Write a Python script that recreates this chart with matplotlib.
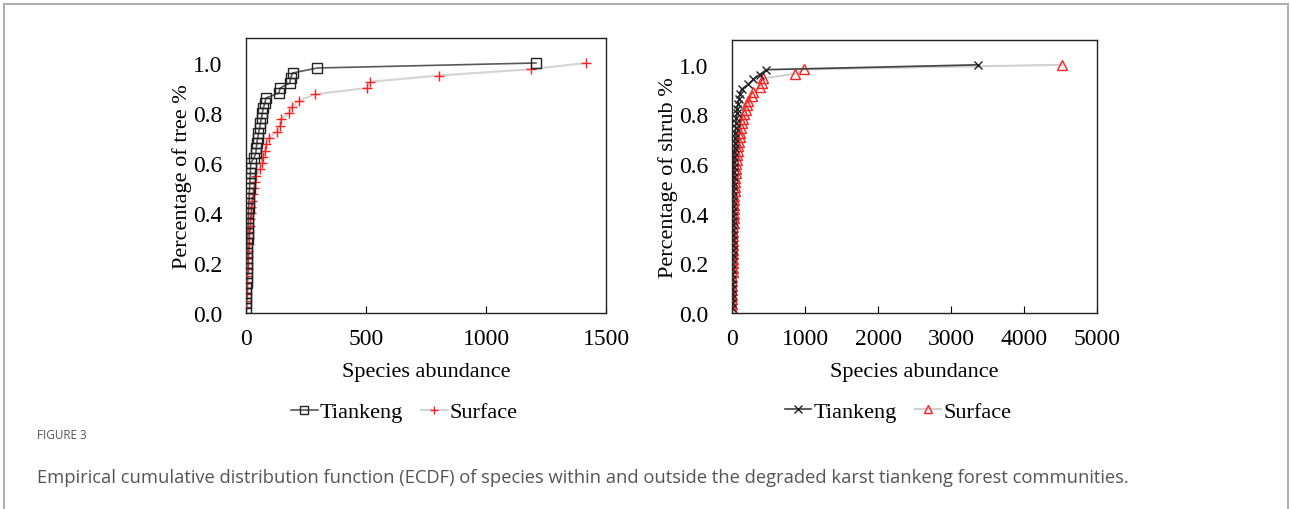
import numpy as np
import matplotlib
matplotlib.use("Agg")
import matplotlib.pyplot as plt
from matplotlib.patches import Rectangle

# tree abundance, sorted (ECDF points)
tree_tiankeng = [1, 1, 2, 2, 2, 3, 3, 3, 4, 4, 5, 5, 6, 6, 7, 8, 8, 9, 10, 10,
                 11, 12, 13, 14, 15, 16, 17, 18, 19, 20, 33, 41, 43, 45, 49, 52,
                 57, 60, 65, 68, 72, 79, 83, 137, 142, 183, 186, 194, 297, 1208]
tree_surface = [1, 2, 3, 4, 5, 6, 7, 8, 9, 10, 11, 12, 13, 15, 17, 19, 21, 24,
                28, 33, 37, 42, 58, 65, 69, 79, 83, 97, 128, 142, 144, 181, 190,
                222, 287, 503, 517, 805, 1186, 1417]

# shrub abundance, sorted (ECDF points)
shrub_tiankeng = [1, 2, 2, 3, 3, 4, 4, 5, 5, 6, 6, 7, 8, 8, 9, 10, 10, 11, 12,
                  13, 14, 15, 16, 17, 18, 19, 20, 22, 24, 26, 28, 30, 32, 35, 38,
                  41, 45, 49, 54, 60, 66, 73, 82, 95, 110, 132, 225, 290, 380,
                  470, 3375]
shrub_surface = [1, 2, 2, 3, 4, 5, 5, 6, 7, 8, 9, 10, 11, 12, 14, 15, 16, 17,
                 19, 21, 23, 25, 27, 29, 31, 33, 35, 38, 41, 45, 50, 55, 58, 62,
                 66, 76, 86, 96, 106, 116, 128, 140, 155, 170, 185, 200, 224,
                 268, 292, 385, 405, 420, 865, 990, 4525]


def ecdf(vals):
    v = np.sort(np.array(vals, dtype=float))
    return v, np.arange(1, len(v) + 1) / len(v)


plt.rcParams['font.family'] = ['Liberation Serif', 'DejaVu Serif']
plt.rcParams['font.size'] = 16

fig = plt.figure(figsize=(12.9, 5.1), dpi=100)

# outer panel frame
fig.patches.append(Rectangle((4 / 1290, -0.1), 1284 / 1290, 1 - 5 / 510 + 0.1,
                             transform=fig.transFigure, fill=False,
                             edgecolor='#b0b0b0', linewidth=1.5))

ax1 = fig.add_axes([246 / 1290, 1 - 314 / 510, 360 / 1290, 275 / 510])
ax2 = fig.add_axes([732 / 1290, 1 - 314 / 510, 365 / 1290, 273 / 510])

x, y = ecdf(tree_tiankeng)
ax1.plot(x, y, color='#595959', lw=1.2, marker='s', ms=6.5, mfc='none',
         mec='#222222', mew=1.0, label='Tiankeng', zorder=3)
x, y = ecdf(tree_surface)
ax1.plot(x, y, color='#d4d4d4', lw=1.5, marker='+', ms=7, mec='#ff2020',
         mew=1.0, label='Surface', zorder=2)

x, y = ecdf(shrub_tiankeng)
ax2.plot(x, y, color='#404040', lw=1.2, marker='x', ms=6, mec='#222222',
         mew=1.0, label='Tiankeng', zorder=3)
x, y = ecdf(shrub_surface)
ax2.plot(x, y, color='#d0d0d0', lw=1.5, marker='^', ms=7, mfc='none',
         mec='#ff2020', mew=1.0, label='Surface', zorder=2)

ax1.set_xlim(0, 1500)
ax1.set_xticks([0, 500, 1000, 1500])
ax2.set_xlim(0, 5000)
ax2.set_xticks([0, 1000, 2000, 3000, 4000, 5000])

for ax, lab, lx in [(ax1, 'Percentage of tree %', 0.44),
                    (ax2, 'Percentage of shrub %', 0.455)]:
    ax.set_ylim(0, 1.1)
    ax.set_yticks([0, 0.2, 0.4, 0.6, 0.8, 1.0])
    ax.set_yticklabels(['0.0', '0.2', '0.4', '0.6', '0.8', '1.0'])
    ax.tick_params(axis='x', direction='in', length=5, width=0.8, pad=11,
                   labelsize=17)
    ax.tick_params(axis='y', length=0, pad=17, labelsize=17)
    for s in ax.spines.values():
        s.set_linewidth(1.0)
        s.set_color('#222222')
    ax.set_xlabel('Species abundance', fontsize=16, labelpad=9)
    ax.set_ylabel(lab, fontsize=16, labelpad=1)
    ax.legend(loc='upper center', bbox_to_anchor=(lx, -0.25), ncol=2,
              frameon=False, fontsize=16, handlelength=1.2, handletextpad=0.1,
              columnspacing=0.8, markerscale=0.9)

fig.text(37 / 1290, 1 - 436 / 510, 'FIGURE 3', fontsize=8.5, color='#555555',
         family='Open Sans', va='center')
fig.text(37 / 1290, 1 - 478 / 510,
         'Empirical cumulative distribution function (ECDF) of species within '
         'and outside the degraded karst tiankeng forest communities.',
         fontsize=13.2, color='#555555', family='Open Sans', va='center')

fig.savefig('out.png', dpi=100)
